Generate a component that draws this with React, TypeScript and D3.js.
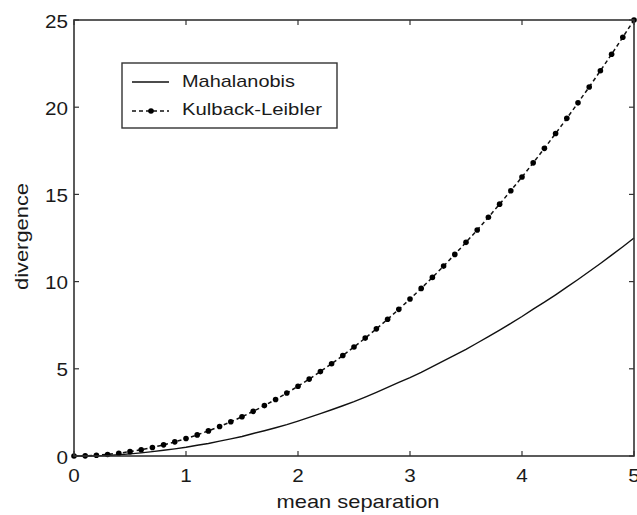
import React from "react";
import * as d3 from "d3";

const xValues = [0,0.1,0.2,0.3,0.4,0.5,0.6,0.7,0.8,0.9,1.0,1.1,1.2,1.3,1.4,1.5,1.6,1.7,1.8,1.9,2.0,2.1,2.2,2.3,2.4,2.5,2.6,2.7,2.8,2.9,3.0,3.1,3.2,3.3,3.4,3.5,3.6,3.7,3.8,3.9,4.0,4.1,4.2,4.3,4.4,4.5,4.6,4.7,4.8,4.9,5.0];
const klValues = [0,0.01,0.04,0.09,0.16,0.25,0.36,0.49,0.64,0.81,1.0,1.21,1.44,1.69,1.96,2.25,2.56,2.89,3.24,3.61,4.0,4.41,4.84,5.29,5.76,6.25,6.76,7.29,7.84,8.41,9.0,9.61,10.24,10.89,11.56,12.25,12.96,13.69,14.44,15.21,16.0,16.81,17.64,18.49,19.36,20.25,21.16,22.09,23.04,24.01,25.0];
const mahalValues = [0,0,0.01,0.03,0.07,0.12,0.18,0.25,0.33,0.41,0.5,0.62,0.72,0.85,0.98,1.12,1.29,1.45,1.62,1.8,2.0,2.21,2.43,2.65,2.88,3.12,3.38,3.65,3.93,4.22,4.5,4.8,5.12,5.45,5.78,6.12,6.48,6.85,7.22,7.6,8.0,8.42,8.82,9.24,9.68,10.12,10.58,11.04,11.52,12.0,12.5];
const xTicks = [0,1,2,3,4,5];
const yTicks = [0,5,10,15,20,25];
const legendLabels = ["Mahalanobis", "Kulback-Leibler"];

export default function App() {
  const W = 637, H = 515;
  const L = 74, R = 634, T = 20, B = 456;
  const x = d3.scaleLinear().domain([0, 5]).range([L, R]);
  const y = d3.scaleLinear().domain([0, 25]).range([B, T]);
  const line = d3.line<number>().x((_, i) => x(xValues[i])).y((d) => y(d));
  const font = "Liberation Sans, Arial, sans-serif";
  const axisColor = "#333";
  const txt = "#1a1a1a";
  return (
    <svg width={W} height={H} style={{ position: "absolute", left: 0, top: 0 }} fontFamily={font}>
      <rect x={0} y={0} width={W} height={H} fill="#fff" />
      {/* curves */}
      <path d={line(mahalValues) || ""} fill="none" stroke="#111" strokeWidth={1.4} />
      <path d={line(klValues) || ""} fill="none" stroke="#111" strokeWidth={1.5} strokeDasharray="4,3" />
      {klValues.map((v, i) => (
        <circle key={i} cx={x(xValues[i])} cy={y(v)} r={2.8} fill="#000" />
      ))}
      {/* frame */}
      <rect x={L} y={T} width={R - L} height={B - T} fill="none" stroke={axisColor} strokeWidth={1.6} />
      {xTicks.map((t) => (
        <g key={"x" + t}>
          <line x1={x(t)} x2={x(t)} y1={B} y2={B - 5} stroke={axisColor} strokeWidth={1.2} />
          <line x1={x(t)} x2={x(t)} y1={T} y2={T + 5} stroke={axisColor} strokeWidth={1.2} />
          <text x={x(t)} y={482} textAnchor="middle" fontSize={18} fill={txt}
            textLength={11.5} lengthAdjust="spacingAndGlyphs">{t}</text>
        </g>
      ))}
      {yTicks.map((t) => (
        <g key={"y" + t}>
          <line x1={L} x2={L + 5} y1={y(t)} y2={y(t)} stroke={axisColor} strokeWidth={1.2} />
          <line x1={R} x2={R - 5} y1={y(t)} y2={y(t)} stroke={axisColor} strokeWidth={1.2} />
          <text x={68} y={y(t) + 7.5} textAnchor="end" fontSize={18} fill={txt}
            textLength={11.5 * String(t).length} lengthAdjust="spacingAndGlyphs">{t}</text>
        </g>
      ))}
      <text x={358} y={508} textAnchor="middle" fontSize={19} fill={txt}
        textLength={163} lengthAdjust="spacingAndGlyphs">mean separation</text>
      <text transform={`translate(28,236.5) rotate(-90)`} textAnchor="middle" fontSize={19} fill={txt}
        textLength={107} lengthAdjust="spacingAndGlyphs">divergence</text>
      {/* legend */}
      <rect x={122} y={63} width={215} height={65} fill="#fff" stroke={axisColor} strokeWidth={1.4} />
      <line x1={132} x2={169} y1={82} y2={82} stroke="#111" strokeWidth={1.4} />
      <line x1={132} x2={169} y1={111} y2={111} stroke="#111" strokeWidth={1.5} strokeDasharray="4,3" />
      <circle cx={151} cy={111} r={2.8} fill="#000" />
      <text x={182} y={87} fontSize={17} fill={txt}
        textLength={113} lengthAdjust="spacingAndGlyphs">{legendLabels[0]}</text>
      <text x={182} y={115} fontSize={17} fill={txt}
        textLength={140} lengthAdjust="spacingAndGlyphs">{legendLabels[1]}</text>
    </svg>
  );
}
